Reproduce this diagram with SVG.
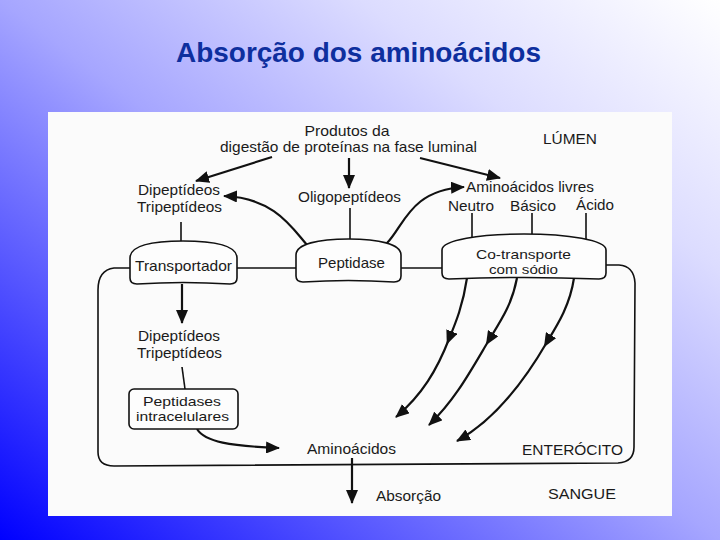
<svg xmlns="http://www.w3.org/2000/svg" width="720" height="540" viewBox="0 0 720 540">
<defs>
<linearGradient id="bg" x1="0" y1="1" x2="1" y2="0">
<stop offset="0" stop-color="#0000ff"/>
<stop offset="0.25" stop-color="#5454ff"/>
<stop offset="0.5" stop-color="#a6a6ff"/>
<stop offset="0.75" stop-color="#dcdcff"/>
<stop offset="1" stop-color="#ffffff"/>
</linearGradient>
<marker id="ah" viewBox="0 0 14 12" refX="13" refY="6" markerWidth="14" markerHeight="12" markerUnits="userSpaceOnUse" orient="auto">
<path d="M0,0 L14,6 L0,12 Z" fill="#111"/>
</marker>
<marker id="am" viewBox="0 0 14 12" refX="8" refY="6" markerWidth="14" markerHeight="12" markerUnits="userSpaceOnUse" orient="auto">
<path d="M0,0 L14,6 L0,12 Z" fill="#111"/>
</marker>
<style>
.t{font-family:"Liberation Sans",Arial,sans-serif;font-size:15px;fill:#1a1a1a;text-anchor:middle}
.s{font-size:13px}
.ln{fill:none;stroke:#111;stroke-width:1.6}
.ar{fill:none;stroke:#111;stroke-width:2.2;marker-end:url(#ah)}
.arm{fill:none;stroke:#111;stroke-width:2.2;marker-mid:url(#am);marker-end:url(#ah)}
.box{fill:#fdfdfd;stroke:#111;stroke-width:1.6}
</style>
</defs>
<rect x="0" y="0" width="720" height="540" fill="url(#bg)"/>
<text x="358.5" y="62" font-family="Liberation Sans, Arial, sans-serif" font-size="27" font-weight="bold" fill="#0e2f9e" text-anchor="middle" textLength="365" lengthAdjust="spacingAndGlyphs">Absorção dos aminoácidos</text>
<rect x="48" y="112" width="624" height="404" fill="#fbfbfb"/>

<g id="connectors">
<path class="ln" d="M130,268 L114,268 Q98,270 98,290 L98,452 Q98,466 114,466 L618,463 Q634,462 634,447 L635,283 Q634,266 619,265 L606,265"/>
<path class="ln" d="M237,268 L296,268"/>
<path class="ln" d="M401,268 L442,268"/>
<path class="ar" d="M272,157 L196,181"/>
<path class="ar" d="M349,158 L349,188"/>
<path class="ar" d="M420,158 L500,178"/>
<path class="ar" d="M308,246 C292,228 275,198 224,196"/>
<path class="ar" d="M387,243 C404,226 410,190 464,187"/>
<path class="ln" d="M350,208 L350,240"/>
<path class="ln" d="M181,222 L181,242"/>
<path class="ln" d="M472,213 L472,237"/>
<path class="ln" d="M532,213 L532,234"/>
<path class="ln" d="M586,213 L586,240"/>
<path class="ar" d="M182,284 L182,323"/>
<path class="ln" d="M182,367 L185,389"/>
<path class="ar" d="M197,429 C205,442 230,446 279,448"/>
<path class="ar" d="M352,458 L352,503"/>
<path class="arm" d="M467,278 C463,305 456,322 449,339 C437,370 422,395 396,417"/>
<path class="arm" d="M517,278 C512,305 500,322 489,340 C470,372 455,400 429,425"/>
<path class="arm" d="M574,278 C570,305 558,324 547,342 C525,380 495,420 457,441"/>
</g>

<g id="transportador">
<path class="box" d="M130,278 L130,258 C130,246 150,241 183,241 C216,241 237,246 237,258 L237,278 Q237,284 230,284 Q183,281 137,284 Q130,284 130,278 Z"/>
<text class="t" x="183.5" y="271" textLength="97" lengthAdjust="spacingAndGlyphs">Transportador</text>
</g>
<g id="peptidase">
<path class="box" d="M296,276 L296,255 C296,244 318,239 348.5,239 C379,239 401,244 401,255 L401,276 Q401,282 394,282 Q348,279 303,282 Q296,282 296,276 Z"/>
<text class="t" x="351.5" y="268" textLength="67" lengthAdjust="spacingAndGlyphs">Peptidase</text>
</g>
<g id="cotransporte">
<path class="box" d="M442,273 L442,250 C442,240 480,234 524,234 C568,234 606,240 606,250 L606,273 Q606,279 599,279 Q524,276 449,279 Q442,279 442,273 Z"/>
<text class="t s" x="523.5" y="259" textLength="95" lengthAdjust="spacingAndGlyphs">Co-transporte</text>
<text class="t s" x="523.5" y="274" textLength="69" lengthAdjust="spacingAndGlyphs">com sódio</text>
</g>
<g id="peptidases-intracelulares">
<rect class="box" x="129" y="389" width="109" height="40" rx="5"/>
<text class="t s" x="182" y="406" textLength="78" lengthAdjust="spacingAndGlyphs">Peptidases</text>
<text class="t s" x="182.5" y="421" textLength="93" lengthAdjust="spacingAndGlyphs">intracelulares</text>
</g>
<g id="produtos">
<text class="t" x="347" y="136" textLength="85" lengthAdjust="spacingAndGlyphs">Produtos da</text>
<text class="t" x="348.5" y="152" textLength="257" lengthAdjust="spacingAndGlyphs">digestão de proteínas na fase luminal</text>
</g>
<g id="lumen"><text class="t" x="570" y="144" textLength="54" lengthAdjust="spacingAndGlyphs">LÚMEN</text></g>
<g id="dipeptideos1">
<text class="t" x="179" y="195" textLength="82" lengthAdjust="spacingAndGlyphs">Dipeptídeos</text>
<text class="t" x="179.5" y="212" textLength="85" lengthAdjust="spacingAndGlyphs">Tripeptídeos</text>
</g>
<g id="oligopeptideos"><text class="t" x="349.5" y="202" textLength="103" lengthAdjust="spacingAndGlyphs">Oligopeptídeos</text></g>
<g id="aminoacidos-livres">
<text class="t" x="530" y="192" textLength="128" lengthAdjust="spacingAndGlyphs">Aminoácidos livres</text>
<text class="t" x="471" y="211" textLength="46" lengthAdjust="spacingAndGlyphs">Neutro</text>
<text class="t" x="533" y="211" textLength="46" lengthAdjust="spacingAndGlyphs">Básico</text>
<text class="t" x="595" y="210" textLength="38" lengthAdjust="spacingAndGlyphs">Ácido</text>
</g>
<g id="dipeptideos2">
<text class="t" x="179" y="341" textLength="82" lengthAdjust="spacingAndGlyphs">Dipeptídeos</text>
<text class="t" x="179.5" y="358" textLength="85" lengthAdjust="spacingAndGlyphs">Tripeptídeos</text>
</g>
<g id="aminoacidos"><text class="t" x="351.5" y="454" textLength="89" lengthAdjust="spacingAndGlyphs">Aminoácidos</text></g>
<g id="enterocito"><text class="t" x="572.5" y="455" textLength="101" lengthAdjust="spacingAndGlyphs">ENTERÓCITO</text></g>
<g id="absorcao"><text class="t" x="408.5" y="501" textLength="65" lengthAdjust="spacingAndGlyphs">Absorção</text></g>
<g id="sangue"><text class="t" x="582" y="499" textLength="68" lengthAdjust="spacingAndGlyphs">SANGUE</text></g>
</svg>
